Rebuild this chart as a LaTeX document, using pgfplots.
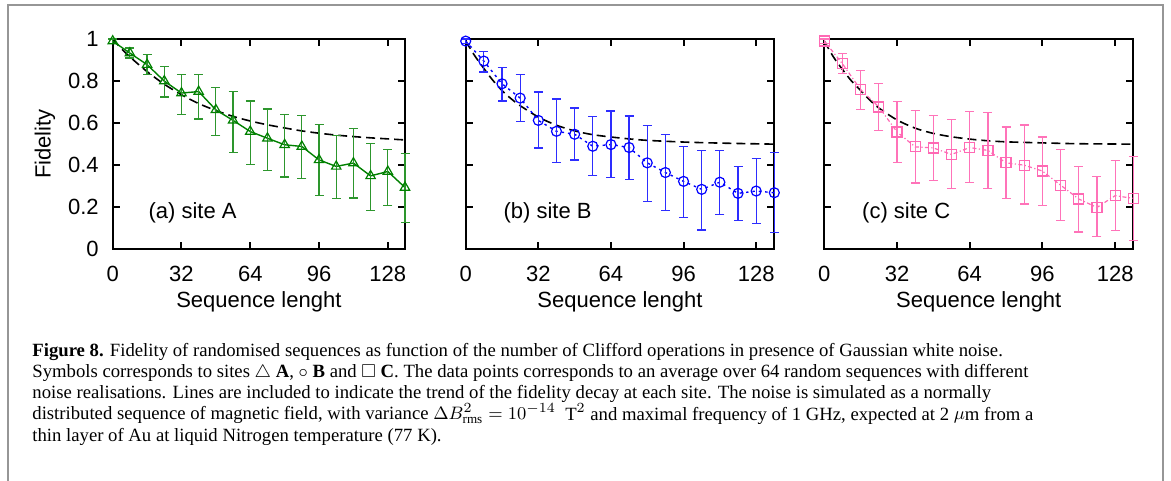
\documentclass[border=0pt]{standalone}
\usepackage{fontspec}
\usepackage{amssymb}
\usepackage{pgfplots}
\usepackage{pgfplotstable}
\pgfplotsset{compat=1.18}
\setmainfont{Liberation Serif}
\newfontfamily\plotfont{Liberation Sans}
\definecolor{gA}{RGB}{0,128,0}
\definecolor{gAbar}{RGB}{45,150,45}
\definecolor{bB}{RGB}{0,0,255}
\definecolor{bBbar}{RGB}{45,45,255}
\definecolor{pC}{RGB}{255,105,180}
\definecolor{pCbar}{RGB}{255,115,185}
\definecolor{framegray}{RGB}{150,150,150}

\pgfplotstableread{
x y hi lo
0 0.99 1.0 0.98
8 0.933 0.957 0.910
16 0.878 0.925 0.830
24 0.800 0.870 0.724
32 0.743 0.830 0.640
40 0.750 0.830 0.620
48 0.663 0.770 0.540
56 0.613 0.750 0.460
64 0.560 0.705 0.405
72 0.528 0.667 0.375
80 0.497 0.641 0.344
88 0.489 0.635 0.337
96 0.425 0.592 0.257
104 0.394 0.541 0.241
112 0.410 0.573 0.244
120 0.349 0.503 0.183
128 0.370 0.476 0.210
136 0.294 0.457 0.129
}\tabA
\pgfplotstableread{
x y hi lo
0 0.99 1.0 0.98
8 0.895 0.942 0.843
16 0.787 0.866 0.705
24 0.719 0.830 0.609
32 0.613 0.748 0.482
40 0.561 0.715 0.413
48 0.547 0.672 0.425
56 0.490 0.631 0.351
64 0.498 0.658 0.343
72 0.484 0.634 0.332
80 0.411 0.590 0.228
88 0.365 0.544 0.185
96 0.323 0.487 0.153
104 0.285 0.471 0.092
112 0.319 0.471 0.166
120 0.266 0.394 0.138
128 0.277 0.432 0.123
136 0.269 0.460 0.079
}\tabB
\pgfplotstableread{
x y hi lo
0 0.99 1.0 0.98
8 0.882 0.930 0.835
16 0.759 0.851 0.664
24 0.677 0.787 0.566
32 0.558 0.704 0.411
40 0.487 0.661 0.315
48 0.482 0.637 0.327
56 0.451 0.617 0.288
64 0.484 0.656 0.316
72 0.470 0.650 0.288
80 0.411 0.582 0.242
88 0.400 0.591 0.215
96 0.372 0.534 0.209
104 0.305 0.474 0.136
112 0.239 0.395 0.082
120 0.199 0.345 0.062
128 0.255 0.422 0.090
136 0.242 0.441 0.041
}\tabC

\pgfplotsset{
 panel/.style={
  scale only axis, height=105.15pt,
  xmin=0,xmax=136,ymin=0,ymax=1,
  xtick={0,32,64,96,128}, ytick={0,0.2,0.4,0.6,0.8,1},
  tick align=inside,
  axis line style={line width=1pt},
  major tick length=3.5pt,
  every tick/.style={black,line width=1pt},
  font=\plotfont\fontsize{11}{13}\selectfont,
  /pgf/number format/assume math mode=true,
  xticklabel style={yshift=-5pt},
  yticklabel style={xshift=-3.5pt},
  xlabel={Sequence lenght},
  xlabel style={at={(axis description cs:0.5,-0.2744)}, anchor=base},
  clip=false,
 },
 fitline/.style={black, line width=0.8pt, dash pattern=on 4.5pt off 2.5pt, smooth},
 ebar/.style={error bars/.cd, y dir=both, y explicit,
   error bar style={line width=0.6pt, solid, #1},
   error mark options={rotate=90, line width=0.6pt, mark size=2.25pt, solid, #1}},
}

\begin{document}
\begin{tikzpicture}
\useasboundingbox (0,0) rectangle (585.5pt,240.5pt);
\draw[framegray, line width=1pt] (4pt,-5pt) -- (4pt,238pt) -- (581.5pt,238pt) -- (581.5pt,-5pt);

% Panel A
\begin{axis}[panel, at={(56.35pt,115.85pt)}, anchor=south west, width=146.15pt,
  ylabel={Fidelity},
  ylabel style={at={(axis description cs:-0.212,0.5)}, anchor=base}]
\addplot[fitline] coordinates {(0,1.0) (4,0.955) (8,0.915) (16,0.845) (24,0.785) (32,0.735) (40,0.693) (48,0.66) (56,0.632) (64,0.61) (72,0.592) (80,0.577) (88,0.563) (96,0.552) (104,0.543) (112,0.536) (120,0.53) (128,0.525) (136,0.52)};
\addplot[gA, line width=0.7pt, mark=triangle, mark size=2.7pt, mark options={solid, line width=0.6pt},
  ebar=gAbar]
  table[x=x, y=y, y error plus expr=\thisrow{hi}-\thisrow{y}, y error minus expr=\thisrow{y}-\thisrow{lo}] {\tabA};
\node[anchor=west, inner sep=0] at (axis cs:16.5,0.175) {(a) site A};
\end{axis}

% Panel B
\begin{axis}[panel, at={(232.85pt,115.85pt)}, anchor=south west, width=154.3pt,
  yticklabels={}]
\addplot[fitline] coordinates {(0,0.99) (4,0.92) (8,0.86) (12,0.803) (16,0.755) (20,0.716) (24,0.683) (32,0.629) (40,0.59) (48,0.563) (56,0.545) (64,0.534) (72,0.525) (80,0.518) (96,0.51) (112,0.505) (136,0.50)};
\addplot[bB, line width=0.7pt, dash pattern=on 1.2pt off 2pt, mark=o, mark size=2.5pt, mark options={solid, line width=0.6pt},
  ebar=bBbar]
  table[x=x, y=y, y error plus expr=\thisrow{hi}-\thisrow{y}, y error minus expr=\thisrow{y}-\thisrow{lo}] {\tabB};
\node[anchor=west, inner sep=0] at (axis cs:16.5,0.175) {(b) site B};
\end{axis}

% Panel C
\begin{axis}[panel, at={(412.15pt,115.85pt)}, anchor=south west, width=154.5pt,
  yticklabels={}]
\addplot[fitline] coordinates {(0,0.99) (4,0.915) (8,0.855) (12,0.80) (16,0.755) (20,0.71) (24,0.672) (32,0.615) (40,0.576) (48,0.551) (56,0.535) (64,0.524) (72,0.516) (80,0.511) (96,0.506) (112,0.502) (136,0.50)};
\addplot[pC, line width=0.6pt, dash pattern=on 2pt off 1.2pt on 0.6pt off 1.2pt, mark=square, mark size=2.5pt, mark options={solid, line width=0.6pt},
  ebar=pCbar]
  table[x=x, y=y, y error plus expr=\thisrow{hi}-\thisrow{y}, y error minus expr=\thisrow{y}-\thisrow{lo}] {\tabC};
\node[anchor=west, inner sep=0] at (axis cs:16.5,0.175) {(c) site C};
\end{axis}

% Caption
\begin{scope}[every node/.style={anchor=base west, inner sep=0, font=\fontsize{9.35}{10.5}\selectfont}]
\node at (16pt,62.15pt) {\textbf{Figure 8.} Fidelity of randomised sequences as function of the number of Clifford operations in presence of Gaussian white noise.};
\node at (16pt,51.6pt) {Symbols corresponds to sites $\triangle$ \textbf{A}, $\circ$ \textbf{B} and $\square$ \textbf{C}. The data points corresponds to an average over 64 random sequences with different};
\node at (16pt,41.05pt) {noise realisations. Lines are included to indicate the trend of the fidelity decay at each site. The noise is simulated as a normally};
\node at (16pt,30.5pt) {distributed sequence of magnetic field, with variance $\Delta B_{\mathrm{rms}}^2 = 10^{-14}$\ \ T$^2$ and maximal frequency of 1 GHz, expected at 2 $\mu$m from a};
\node at (16pt,19.95pt) {thin layer of Au at liquid Nitrogen temperature (77 K).};
\end{scope}
\end{tikzpicture}
\end{document}
